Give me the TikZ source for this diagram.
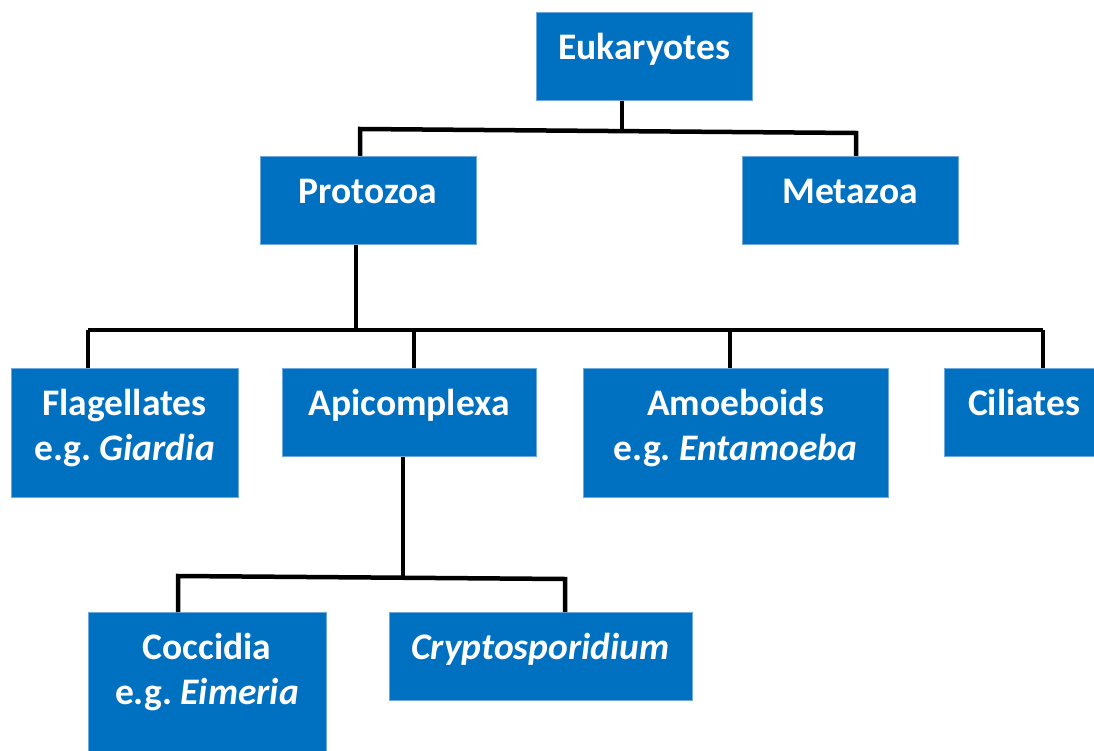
\documentclass[tikz,border=0pt]{standalone}
\usepackage{fontspec}
\setmainfont{Carlito}
\usepackage{tikz}
\frenchspacing
\definecolor{Blue}{HTML}{0070C0}
\definecolor{Edge}{HTML}{6FA8DC}

\begin{document}
\begin{tikzpicture}[x=1pt,y=-1pt,
    box/.style={fill=Blue,draw=Edge,line width=0.8pt,text=white,anchor=north,inner sep=0pt,
      font=\fontsize{37.5}{45}\selectfont\bfseries,align=center,text height=47.5pt},
    twoline/.style={box,text height=92.5pt},
    link/.style={draw=black,line width=4.5pt,line join=miter}]
    \useasboundingbox (0,0) rectangle (1094,751);
    \clip (0,0) rectangle (1094,751);

    \node[box,minimum width=216pt,text depth=40.5pt] (euk) at (644,12) {Eukaryotes};
    \node[box,minimum width=216pt,text depth=40.5pt] (prot) at (368,156) {Protozoa};
    \node[box,minimum width=216pt,text depth=40.5pt] (meta) at (850,156) {Metazoa};

    \node[twoline,minimum width=227pt,text depth=36.5pt] (flag) at (124.5,368) {Flagellates\\e.g. \textit{Giardia}};
    \node[box,minimum width=254pt,text depth=40.5pt] (api) at (409,368) {Apicomplexa};
    \node[twoline,minimum width=305pt,text depth=36.5pt] (amoe) at (735.5,368) {Amoeboids\\e.g. \textit{Entamoeba}};
    \node[box,minimum width=160pt,text depth=40.5pt] (cil) at (1024,368) {Ciliates};

    \node[twoline,minimum width=238pt,text depth=55.5pt] (cocc) at (207,612) {Coccidia\\e.g. \textit{Eimeria}};
    \node[box,minimum width=303pt,text depth=40.5pt] (crypto) at (540.5,612) {\textit{Cryptosporidium}};

    % eukaryotes
    \draw[link] (euk.south -| 622,0) -- (622,131);
    \draw[link] (prot.north -| 360,0) -- (360,129) -- (856,133) -- (meta.north -| 856,0);

    % protozoa
    \draw[link] (prot.south -| 356,0) -- (356,330);
    \draw[link] (88,330) -- (1043,330);
    \foreach \n/\x in {flag/88,api/414,amoe/730,cil/1043}
      \draw[link] (\n.north -| \x,0) -- (\x,330);

    % apicomplexa
    \draw[link] (api.south -| 403,0) -- (403,577);
    \draw[link] (cocc.north -| 178,0) -- (178,576) -- (565,579) -- (crypto.north -| 565,0);
\end{tikzpicture}
\end{document}
